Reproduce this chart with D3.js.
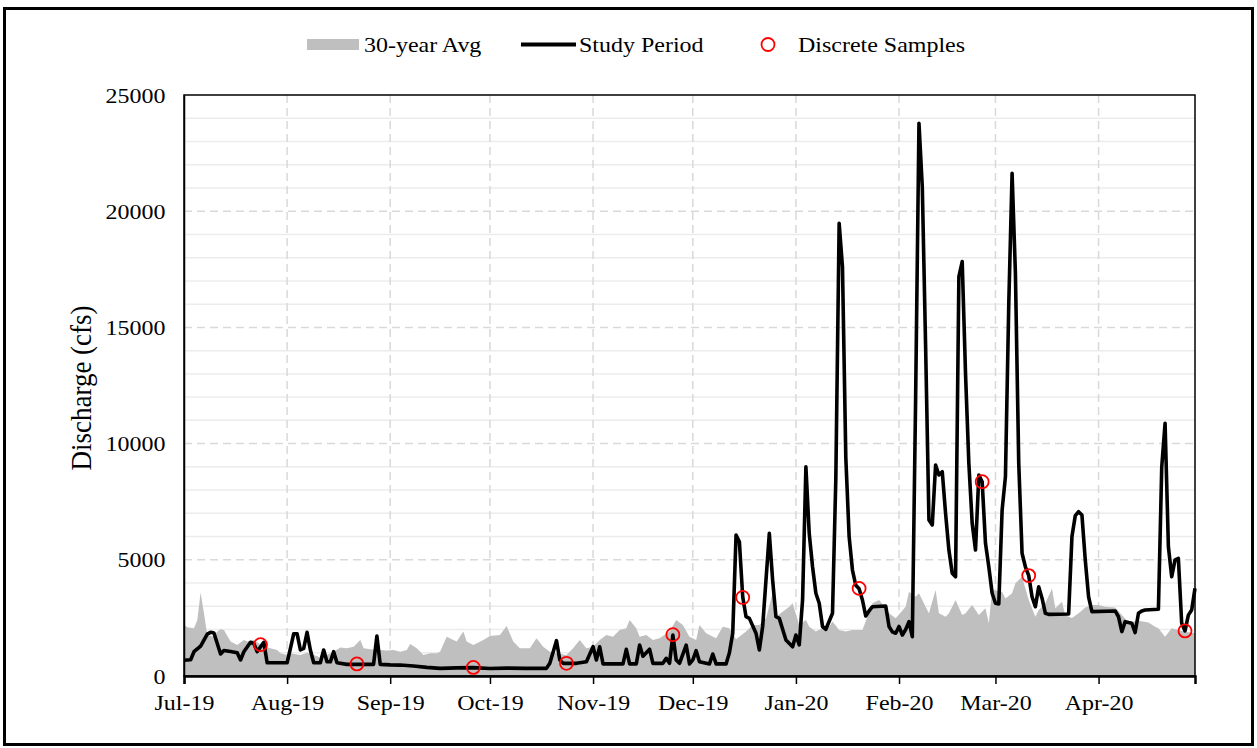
<!DOCTYPE html>
<html><head><meta charset="utf-8">
<script src="https://cdn.jsdelivr.net/npm/d3@7"></script>
<style>
body{margin:0;background:#fff}
text{font-family:"Liberation Serif","Times New Roman",serif;fill:#000}
</style>
</head><body>
<svg id="chart" width="1257" height="748"></svg>
<script>
// ---- DATA (days counted from 2019-07-01) ----
const startISO = "2019-07-01";
const endISO = "2020-04-30";

const avgDays = [0,1,3,4,5,6,7,9,10,11,12,14,16,18,19,21,24,26,28,29,31,32,35,37,39,41,43,45,47,49,51,53,54,56,59,61,63,65,67,68,70,72,74,76,77,79,81,82,84,85,87,90,92,95,97,99,101,104,106,108,110,112,115,117,119,121,123,125,127,129,131,133,134,136,137,139,141,143,146,148,150,152,154,155,157,160,162,164,166,169,171,173,175,177,178,180,182,183,185,187,188,190,192,194,195,197,199,201,204,207,209,211,212,214,217,218,220,221,223,224,226,227,229,230,232,234,235,237,239,241,242,243,246,247,249,250,252,254,256,257,259,261,262,264,265,267,269,271,273,275,277,280,282,284,287,290,292,293,295,297,299,301,304];
const avgValues = [2200,2100,2050,2410,3590,2700,1765,1690,1910,2010,1980,1480,1330,1550,1480,1550,1260,1190,1120,975,900,975,900,1000,900,800,900,1045,1230,1190,1260,1550,1190,1150,1120,1100,1120,1045,1120,1380,1190,900,975,975,1045,1690,1550,1480,1910,1480,1330,1550,1720,1760,2150,1480,1190,1190,1620,1260,1045,975,900,1190,1550,1190,1260,1550,1765,1690,1980,2050,2410,2050,1690,1760,1550,1620,1910,2410,2190,1690,1550,2190,1840,1620,2120,2050,1580,1910,2190,2190,2480,3560,2550,2770,2980,3130,2190,2410,2120,1910,2050,2120,2340,1980,1910,1980,1980,3130,3270,2910,2700,2480,2980,3630,3410,3560,2980,2700,3700,2700,2550,2700,3270,2630,2700,3055,2630,2910,2270,3700,3630,3340,3560,3990,4270,3270,2550,2840,3130,3770,2910,3190,2600,2500,2700,2950,3055,3055,2980,2950,2630,2300,2380,2300,2120,2050,1690,2050,1980,1900,1850];

const studyDays = [0,2,3,5,7,8,9,11,12,14,16,17,18,20,21,22,24,25,31,32,33,34,35,36,37,38,39,41,42,43,44,45,46,49,57,58,59,62,65,69,73,77,82,87,92,97,103,109,110,112,113,114,118,121,123,124,125,126,132,133,134,136,137,138,140,141,144,145,146,147,148,149,151,152,153,154,155,158,159,160,163,164,165,166,167,168,169,170,172,173,174,176,177,178,179,181,183,184,185,186,187,188,189,190,191,192,193,195,196,197,198,199,200,201,202,203,204,205,206,207,211,212,213,214,215,216,217,218,219,220,221,222,223,224,225,226,227,228,229,230,231,232,233,234,235,236,237,238,239,240,241,242,243,244,245,246,247,248,249,250,251,252,253,254,255,256,257,258,259,260,266,267,268,269,270,271,272,273,280,281,282,283,284,285,286,287,288,289,293,294,295,296,297,298,299,300,301,302,303,304];
const studyValues = [680,700,1045,1290,1800,1880,1850,950,1100,1050,1000,690,1045,1450,1400,1050,1450,570,570,1190,1820,1820,1120,1190,1880,1120,570,570,1120,610,610,1045,570,500,500,1720,500,480,470,430,370,330,350,360,320,340,330,330,545,1520,690,545,545,610,1260,690,1260,520,520,1150,520,520,1330,850,1150,545,545,760,545,1760,690,545,1330,520,690,1090,610,520,945,520,520,1000,1840,6070,5780,3410,2550,2480,1840,1120,2130,6140,4130,2550,2480,1550,1260,1765,1340,3270,9000,6140,4700,3560,3130,2130,2010,2700,8500,19480,17600,9400,6000,4560,3900,3750,3270,2580,2800,2980,3010,2130,1900,1840,2130,1765,2000,2340,1690,12000,23780,21050,14170,6710,6500,9080,8650,8790,7000,5420,4420,4270,17180,17830,13000,9150,6570,5420,8650,8360,5710,4700,3560,3130,3100,7140,8580,16000,21630,17330,9150,5280,4700,4320,3410,2980,3840,3350,2700,2650,2670,6000,6900,7070,6930,5000,3410,2770,2800,2550,1910,2340,2300,2270,1870,2700,2800,2840,2870,9000,10870,5560,4270,5000,5060,2270,1940,2620,2840,3770];

const sampleDays = [23,52,87,115,147,168,203,240,254,301];
const sampleValues = [1350,520,370,545,1780,3380,3770,8360,4320,1940];

const monthTicks = ["2019-07-01","2019-08-01","2019-09-01","2019-10-01","2019-11-01","2019-12-01","2020-01-01","2020-02-01","2020-03-01","2020-04-01"];
const monthLabels = ["Jul-19","Aug-19","Sep-19","Oct-19","Nov-19","Dec-19","Jan-20","Feb-20","Mar-20","Apr-20"];
const yTicks = [0,5000,10000,15000,20000,25000];
const legendLabels = ["30-year Avg","Study Period","Discrete Samples"];
const yTitle = "Discharge (cfs)";

// ---- DRAWING ----
const svg = d3.select("#chart");
const W = 1257, H = 748;
const plot = {l:184, r:1195, t:95, b:676};
const start = new Date(startISO+"T00:00:00Z");
const dayToDate = d => d3.utcDay.offset(start, d);
const x = d3.scaleUtc().domain([start, new Date(endISO+"T00:00:00Z")]).range([plot.l, plot.r]);
const y = d3.scaleLinear().domain([0,25000]).range([plot.b, plot.t]);
const FS = 22, SX = 1.09;

svg.append("rect").attr("width",W).attr("height",H).attr("fill","#fff");

// gridlines
const g = svg.append("g");
g.selectAll(".minor").data(d3.range(1000,25000,1000).filter(v=>v%5000!==0)).join("line")
  .attr("x1",plot.l).attr("x2",plot.r).attr("y1",d=>y(d)).attr("y2",d=>y(d))
  .attr("stroke","#ececec").attr("stroke-width",1.5);
g.selectAll(".major").data(yTicks.filter(v=>v>0 && v<25000)).join("line")
  .attr("x1",plot.l).attr("x2",plot.r).attr("y1",d=>y(d)).attr("y2",d=>y(d))
  .attr("stroke","#d9d9d9").attr("stroke-width",1.5).attr("stroke-dasharray","8,5");
g.selectAll(".vgrid").data(monthTicks.slice(1)).join("line")
  .attr("x1",d=>x(new Date(d+"T00:00:00Z"))).attr("x2",d=>x(new Date(d+"T00:00:00Z")))
  .attr("y1",plot.t).attr("y2",plot.b)
  .attr("stroke","#d9d9d9").attr("stroke-width",1.5).attr("stroke-dasharray","8,5");

// area
const avgData = avgDays.map((d,i)=>({date:dayToDate(d), v:avgValues[i]}));
svg.append("path").datum(avgData)
  .attr("d", d3.area().x(d=>x(d.date)).y0(y(0)).y1(d=>y(d.v)))
  .attr("fill","#bfbfbf");

// line
const studyData = studyDays.map((d,i)=>({date:dayToDate(d), v:studyValues[i]}));
svg.append("path").datum(studyData)
  .attr("d", d3.line().x(d=>x(d.date)).y(d=>y(d.v)))
  .attr("fill","none").attr("stroke","#000").attr("stroke-width",3.6)
  .attr("stroke-linejoin","round");

// samples
const sampleData = sampleDays.map((d,i)=>({date:dayToDate(d), v:sampleValues[i]}));
svg.selectAll(".s").data(sampleData).join("circle")
  .attr("cx",d=>x(d.date)).attr("cy",d=>y(d.v)).attr("r",6.5)
  .attr("fill","none").attr("stroke","#ff0000").attr("stroke-width",1.8);

// plot frame
svg.append("rect").attr("x",plot.l).attr("y",plot.t).attr("width",plot.r-plot.l).attr("height",plot.b-plot.t)
  .attr("fill","none").attr("stroke","#000").attr("stroke-width",1.5);

// x axis
const xAxis = d3.axisBottom(x)
  .tickValues(monthTicks.map(d=>new Date(d+"T00:00:00Z")))
  .tickFormat((d,i)=>monthLabels[i]).tickSize(8).tickPadding(10);
const xa = svg.append("g").attr("transform",`translate(0,${plot.b})`).call(xAxis);
xa.select(".domain").attr("stroke","#000").attr("stroke-width",2.5);
xa.selectAll(".tick line").attr("stroke","#000").attr("stroke-width",1.5);
xa.selectAll("text").attr("font-size",FS).attr("font-family","Liberation Serif").attr("fill","#000")
  .attr("transform",`scale(${SX},1)`);

// y axis
const yAxis = d3.axisLeft(y).tickValues(yTicks).tickFormat(d3.format("d")).tickSize(0).tickPadding(17);
const ya = svg.append("g").attr("transform",`translate(${plot.l},0)`).call(yAxis);
ya.select(".domain").attr("stroke","#000").attr("stroke-width",1.5);
ya.selectAll("text").attr("font-size",FS).attr("font-family","Liberation Serif").attr("fill","#000")
  .attr("transform",`scale(${SX},1)`);

// y title
svg.append("text").attr("transform","translate(91,388) scale(1.09,1) rotate(-90)")
  .attr("text-anchor","middle").attr("font-size",27).text(yTitle);

// legend
const lg = svg.append("g");
lg.append("rect").attr("x",307).attr("y",39).attr("width",52).attr("height",11).attr("fill","#bfbfbf");
lg.append("text").attr("transform",`translate(364,52) scale(${SX},1)`).attr("font-size",FS).text(legendLabels[0]);
lg.append("line").attr("x1",521).attr("x2",576).attr("y1",44.5).attr("y2",44.5).attr("stroke","#000").attr("stroke-width",4);
lg.append("text").attr("transform",`translate(579,52) scale(${SX},1)`).attr("font-size",FS).text(legendLabels[1]);
lg.append("circle").attr("cx",768).attr("cy",44.5).attr("r",6.5).attr("fill","none").attr("stroke","#ff0000").attr("stroke-width",1.8);
lg.append("text").attr("transform",`translate(798,52) scale(${SX},1)`).attr("font-size",FS).text(legendLabels[2]);

// outer border
svg.append("rect").attr("x",4.5).attr("y",8.5).attr("width",1248).attr("height",736)
  .attr("fill","none").attr("stroke","#000").attr("stroke-width",3);
</script>
</body></html>
